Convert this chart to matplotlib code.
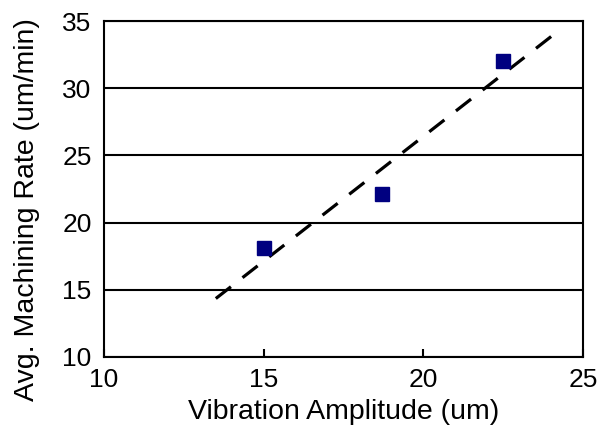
import matplotlib
matplotlib.use('Agg')
import matplotlib.pyplot as plt
import numpy as np

# data
amplitude = [15.0, 18.7, 22.5]
rate = [18.1, 22.1, 32.0]
fit_range = [13.5, 24.0]

plt.rcParams['font.family'] = ['Liberation Sans', 'DejaVu Sans']

fig = plt.figure(figsize=(5.98, 4.38), dpi=100)
ax = fig.add_axes([0.174, 0.185, 0.801, 0.767])

# linear trend through the points
slope, icept = np.polyfit(amplitude, rate, 1)
xf = np.array(fit_range)
ax.plot(xf, slope * xf + icept, color='black', lw=2.3, ls=(0, (6, 4.6)), zorder=3)

ax.plot(amplitude, rate, ls='none', marker='s', ms=10, color='#000080', zorder=4)

ax.set_xlim(10, 25)
ax.set_ylim(10, 35)
ax.set_xticks([10, 15, 20, 25])
ax.set_yticks([10, 15, 20, 25, 30, 35])
ax.yaxis.grid(True, color='black', lw=1.5)
ax.set_axisbelow(True)
ax.tick_params(direction='in', length=6, width=1.5, labelsize=19, pad=8)
ax.tick_params(axis='y', length=0, pad=9)
for s in ax.spines.values():
    s.set_linewidth(1.5)

ax.set_xlabel('Vibration Amplitude (um)', fontsize=20.5, labelpad=5)
ax.set_ylabel('Avg. Machining Rate (um/min)', fontsize=20.5)
# label sits a little below the axes centre in the reference
ax.yaxis.set_label_coords(-0.133, 0.44)

fig.savefig('out.png', dpi=100)
